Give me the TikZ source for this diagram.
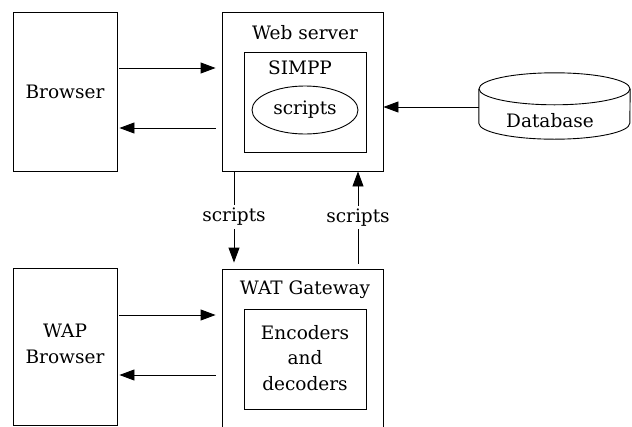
\documentclass[tikz,border=0pt]{standalone}
\usepackage{fontspec}
\setmainfont{DejaVu Serif}
\usetikzlibrary{arrows.meta,shapes.geometric}
\tikzset{
  box/.style={draw, line width=0.9pt, inner sep=0pt, rectangle},
  lbl/.style={inner sep=0pt, font=\fontsize{18.5}{25.5}\selectfont, align=center},
  arr/.style={line width=0.9pt, -{Triangle[length=15pt,width=11pt]}},
  conn/.style={line width=0.9pt},
}
\begin{document}
\begin{tikzpicture}[x=1pt,y=-1pt]
\clip (0,0) rectangle (632,426);
\fill[white] (0,0) rectangle (632,426);
% top row
\node[box, minimum width=104pt, minimum height=159pt] (browser) at (65,91.5) {};
\node[lbl] (browsert) at (65,92) {Browser};
\node[box, minimum width=161pt, minimum height=159pt] (web) at (302.5,91.5) {};
\node[lbl] (webt) at (305,33) {Web server};
\node[box, minimum width=122pt, minimum height=100pt] (simpp) at (305,102) {};
\node[lbl] (simppt) at (300,68) {SIMPP};
\node[ellipse, draw, line width=0.9pt, minimum width=106pt, minimum height=48pt, inner sep=0pt] (scr) at (305,110) {};
\node[lbl] (scrt) at (305,110) {scripts};
% database
\node[inner sep=0pt, minimum width=151pt, minimum height=34pt] (db) at (554.5,106) {};
\draw[conn] (db.north west) -- (db.south west) arc[start angle=180, end angle=360, x radius=75.5pt, y radius=16pt] -- (db.north east);
\draw[conn] (db.north) ellipse[x radius=75.5pt, y radius=16pt];
\node[lbl] (dbt) at (550,121) {Database};
% bottom row
\node[box, minimum width=104pt, minimum height=157pt] (wap) at (65,346.5) {};
\node[lbl] (wapt) at (65,344) {WAP\\Browser};
\node[box, minimum width=161pt, minimum height=180pt] (gw) at (302.5,359) {};
\node[lbl] (gwt) at (305,290) {WAT Gateway};
\node[box, minimum width=122pt, minimum height=100pt] (enc) at (305,359) {};
\node[lbl] (enct) at (305,358) {Encoders\\and\\decoders};
% connectors
\draw[arr] ([yshift=23.5pt,xshift=2pt]browser.east) -- ([yshift=23.5pt,xshift=-6pt]web.west);
\draw[arr] ([yshift=-36.5pt,xshift=-6pt]web.west) -- ([yshift=-36.5pt,xshift=2pt]browser.east);
\draw[arr] ([yshift=-1pt]db.west) -- ([yshift=-1pt]web.east |- db.west);
\draw[arr] ([yshift=31.5pt,xshift=2pt]wap.east) -- ([yshift=31.5pt,xshift=-6pt]gw.west |- wap.east);
\draw[arr] ([yshift=-28.5pt,xshift=-6pt]gw.west |- wap.east) -- ([yshift=-28.5pt,xshift=2pt]wap.east);
\coordinate (dl1) at ([xshift=-68.5pt]web.south);
\coordinate (dl2) at ([xshift=-68.5pt,yshift=6pt]gw.north);
\draw[arr] (dl1) -- node[lbl, fill=white, inner ysep=3pt, inner xsep=1pt, pos=0.5] (s1) {scripts} (dl2);
\coordinate (ul1) at ([xshift=55.5pt,yshift=5pt]gw.north);
\coordinate (ul2) at ([xshift=55.5pt]web.south);
\draw[arr] (ul1) -- node[lbl, fill=white, inner ysep=3pt, inner xsep=1pt, pos=0.5] (s2) {scripts} (ul2);
\end{tikzpicture}
\end{document}
